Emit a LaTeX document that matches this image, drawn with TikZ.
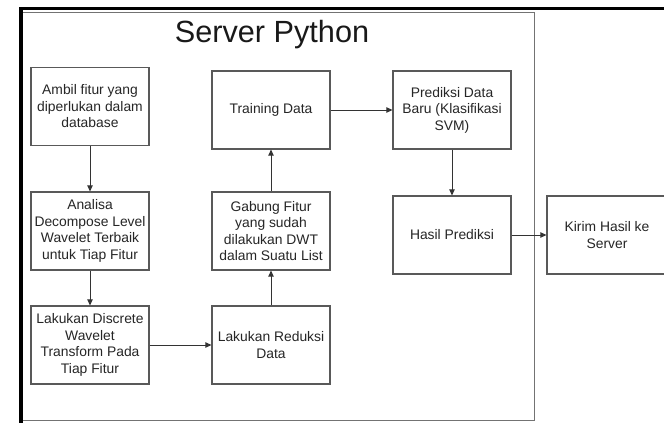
\documentclass[tikz,border=0pt]{standalone}
\usepackage{fontspec}
\setmainfont{Liberation Sans}
\usetikzlibrary{arrows.meta}
\begin{document}
\begin{tikzpicture}[x=0.75pt,y=-0.75pt,
  procbox/.style={draw=black!65,line width=0.8pt,fill=white,
    minimum width=118*0.75pt,minimum height=78*0.75pt,
    align=center,inner sep=2pt,text=black!85,
    font=\fontsize{10.4pt}{12.4pt}\selectfont},
  flow/.style={draw=black!80,line width=0.7pt,
    -{Triangle[length=4.5pt,width=4pt]}},
  lane/.style={draw=black!55,line width=0.7pt},
  pool/.style={draw=black,line width=2.3pt}]
\useasboundingbox (0,0) rectangle (664,422);
% container of the Python server
\draw[lane] (22,12) rectangle (534,420);
\draw[pool] (664,8.5) -- (21,8.5) -- (21,423);
\node[font=\fontsize{23pt}{26pt}\selectfont,text=black!90] (title) at (272,35) {Server Python};
% processing steps
\node[procbox] (ambil)    at (90,106.5) {Ambil fitur yang\\diperlukan dalam\\database};
\node[procbox] (analisa)  at (90,231)   {Analisa\\Decompose Level\\Wavelet Terbaik\\untuk Tiap Fitur};
\node[procbox] (dwt)      at (90,345)   {Lakukan Discrete\\Wavelet\\Transform Pada\\Tiap Fitur};
\node[procbox] (reduksi)  at (271,345)  {Lakukan Reduksi\\Data};
\node[procbox] (gabung)   at (271,231)  {Gabung Fitur\\yang sudah\\dilakukan DWT\\dalam Suatu List};
\node[procbox] (training) at (271,110)  {Training Data};
\node[procbox] (prediksi) at (452,110)  {Prediksi Data\\Baru (Klasifikasi\\SVM)};
\node[procbox] (hasil)    at (452,235)  {Hasil Prediksi};
\node[procbox,minimum width=120*0.75pt] (kirim) at (607,235) {Kirim Hasil ke\\Server};
% connectors
\draw[flow] (ambil) -- (analisa);
\draw[flow] (analisa) -- (dwt);
\draw[flow] (dwt) -- (reduksi);
\draw[flow] (reduksi) -- (gabung);
\draw[flow] (gabung) -- (training);
\draw[flow] (training) -- (prediksi);
\draw[flow] (prediksi) -- (hasil);
\draw[flow] (hasil) -- (kirim);
\end{tikzpicture}
\end{document}
